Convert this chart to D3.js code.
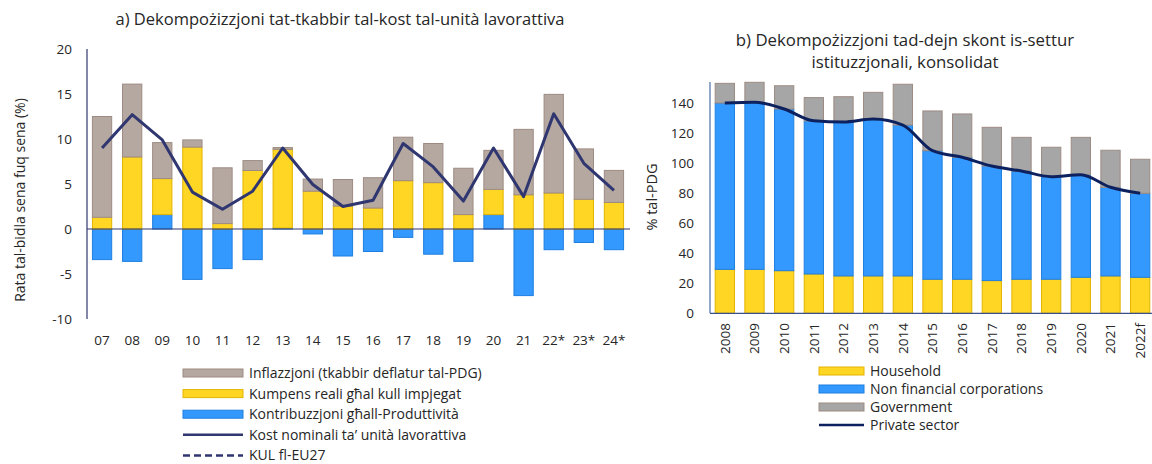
<!DOCTYPE html>
<html><head><meta charset="utf-8">
<script src="https://cdn.jsdelivr.net/npm/d3@7"></script>
<style>
body{margin:0;background:#fff;}
svg text{font-family:"Open Sans",Lato,sans-serif;fill:#262626;}
</style></head><body>
<svg id="c" width="1152" height="464"></svg>
<script>
// ---------- Chart a data ----------
const catsA = ["07","08","09","10","11","12","13","14","15","16","17","18","19","20","21","22*","23*","24*"];
const productivity = [-3.4,-3.6,1.6,-5.6,-4.4,-3.4,0.1,-0.55,-3.0,-2.5,-0.93,-2.8,-3.6,1.6,-7.4,-2.3,-1.5,-2.3];
const realComp =     [1.3,8.0,4.0,9.1,0.6,6.5,8.75,4.2,2.55,2.33,5.37,5.15,1.6,2.8,3.8,4.0,3.3,2.95];
const inflation =    [11.2,8.1,4.0,0.8,6.2,1.1,0.2,1.35,2.95,3.37,4.83,4.35,5.15,4.34,7.27,10.96,5.6,3.56];
const ulc =          [9.0,12.7,9.9,4.1,2.2,4.2,9.0,4.95,2.5,3.2,9.5,6.9,3.1,9.0,3.6,12.8,7.3,4.3];
const ticksA = [-10,-5,0,5,10,15,20];

// ---------- Chart b data ----------
const catsB = ["2008","2009","2010","2011","2012","2013","2014","2015","2016","2017","2018","2019","2020","2021","2022f"];
const household = [29.3,29.3,28.4,26.2,24.9,24.9,24.9,22.7,22.7,21.8,22.7,22.7,24.0,24.9,24.0];
const nfc =       [110.9,111.4,107.8,102.1,102.6,104.6,100.6,85.7,81.3,76.4,72.2,68.4,68.4,59.1,56.0];
const government =[13.1,13.3,15.5,15.5,16.9,17.8,27.2,26.5,28.9,25.8,22.4,19.6,24.9,24.7,22.7];
const privateSector = [140.2,140.7,136.2,128.3,127.5,129.5,125.5,108.4,104.0,98.2,94.9,91.1,92.4,84.0,80.0];
const ticksB = [0,20,40,60,80,100,120,140];

const svg = d3.select("#c");
const COL = {
  gray:"#b5a8a1", grayS:"#9d8b83",
  yellow:"#ffd624", yellowS:"#e3b400",
  blue:"#3399fe", blueS:"#1f7fe0",
  navy:"#2f3670", navy2:"#0d215e", gray2:"#a6a6a6"
};

// ================= Chart a =================
(function(){
  const x = d3.scaleBand().domain(catsA).range([87,629]).paddingInner(0.36).paddingOuter(0.18);
  const y = d3.scaleLinear().domain([-10,20]).range([319,49]);
  const g = svg.append("g");
  const rows = catsA.map((c,i)=>({cat:c, prod:productivity[i], real:realComp[i], infl:inflation[i]}));
  const keys = ["prod","real","infl"];
  const fills = {prod:[COL.blue,COL.blueS], real:[COL.yellow,COL.yellowS], infl:[COL.gray,COL.grayS]};
  const stack = d3.stack().keys(keys).offset(d3.stackOffsetDiverging)(rows);
  stack.forEach(s=>{
    g.append("g").selectAll("rect").data(s).join("rect")
      .attr("x",d=>x(d.data.cat)).attr("width",x.bandwidth())
      .attr("y",d=>y(Math.max(d[0],d[1]))).attr("height",d=>Math.abs(y(d[0])-y(d[1])))
      .attr("fill",fills[s.key][0]).attr("stroke",fills[s.key][1]).attr("stroke-width",1);
  });
  g.append("line").attr("x1",87).attr("x2",87).attr("y1",y(20)).attr("y2",y(-10)).attr("stroke",COL.navy).attr("stroke-width",1.2);
  g.append("line").attr("x1",87).attr("x2",630).attr("y1",y(0)).attr("y2",y(0)).attr("stroke",COL.navy).attr("stroke-width",1.2);
  g.append("g").selectAll("text").data(ticksA).join("text")
    .attr("x",72).attr("y",d=>y(d)).attr("dy","0.35em").attr("text-anchor","end")
    .style("font-size","13.5px").text(d=>d);
  g.append("g").selectAll("text").data(catsA).join("text")
    .attr("x",d=>x(d)+x.bandwidth()/2).attr("y",340).attr("dy","0.35em").attr("text-anchor","middle")
    .style("font-size","13.5px").text(d=>d);
  const line = d3.line().x((d,i)=>x(catsA[i])+x.bandwidth()/2).y(d=>y(d));
  g.append("path").attr("d",line(ulc)).attr("fill","none").attr("stroke",COL.navy).attr("stroke-width",3).attr("stroke-linejoin","round");
  svg.append("text").attr("x",340).attr("y",19).attr("dy","0.35em").attr("text-anchor","middle").style("font-size","16.5px")
    .text("a) Dekompożizzjoni tat-tkabbir tal-kost tal-unità lavorattiva");
  svg.append("text").attr("transform","translate(20,200) rotate(-90)").attr("text-anchor","middle").attr("dy","0.35em")
    .style("font-size","14px").text("Rata tal-bidla sena fuq sena (%)");
  const leg = [
    {t:"Inflazzjoni (tkabbir deflatur tal-PDG)", type:"box", c:COL.gray, s:COL.grayS},
    {t:"Kumpens reali għal kull impjegat", type:"box", c:COL.yellow, s:COL.yellowS},
    {t:"Kontribuzzjoni għall-Produttività", type:"box", c:COL.blue, s:COL.blueS},
    {t:"Kost nominali ta’ unità lavorattiva", type:"line", c:COL.navy},
    {t:"KUL fl-EU27", type:"dash", c:COL.navy}
  ];
  const lg = svg.append("g");
  leg.forEach((d,i)=>{
    const yy = 373 + i*20.6;
    if(d.type==="box") lg.append("rect").attr("x",183).attr("y",yy-4).attr("width",60).attr("height",8).attr("fill",d.c).attr("stroke",d.s).attr("stroke-width",1);
    else lg.append("line").attr("x1",183).attr("x2",243).attr("y1",yy).attr("y2",yy).attr("stroke",d.c).attr("stroke-width",2.5)
      .attr("stroke-dasharray",d.type==="dash"?"7,4":null);
    lg.append("text").attr("x",249).attr("y",yy).attr("dy","0.35em").style("font-size","14px").text(d.t);
  });
})();

// ================= Chart b =================
(function(){
  const x = d3.scaleBand().domain(catsB).range([710,1155]).paddingInner(0.35).paddingOuter(0.175);
  const y = d3.scaleLinear().domain([0,140]).range([313.3,103.3]);
  const g = svg.append("g");
  const rows = catsB.map((c,i)=>({cat:c, hh:household[i], nfc:nfc[i], gov:government[i]}));
  const keys = ["hh","nfc","gov"];
  const fills = {hh:[COL.yellow,COL.yellowS], nfc:[COL.blue,COL.blueS], gov:[COL.gray2,COL.grayS]};
  const stack = d3.stack().keys(keys)(rows);
  stack.forEach(s=>{
    g.append("g").selectAll("rect").data(s).join("rect")
      .attr("x",d=>x(d.data.cat)).attr("width",x.bandwidth())
      .attr("y",d=>y(d[1])).attr("height",d=>y(d[0])-y(d[1]))
      .attr("fill",fills[s.key][0]).attr("stroke",fills[s.key][1]).attr("stroke-width",1);
  });
  g.append("line").attr("x1",710).attr("x2",710).attr("y1",82).attr("y2",y(0)).attr("stroke","#4a6ea8").attr("stroke-width",1.2);
  g.append("line").attr("x1",710).attr("x2",1152).attr("y1",y(0)).attr("y2",y(0)).attr("stroke","#3a4f8a").attr("stroke-width",1.2);
  g.append("g").selectAll("text").data(ticksB).join("text")
    .attr("x",694).attr("y",d=>y(d)).attr("dy","0.35em").attr("text-anchor","end")
    .style("font-size","13.5px").text(d=>d);
  g.append("g").selectAll("text").data(catsB).join("text")
    .attr("transform",d=>`translate(${x(d)+x.bandwidth()/2},323) rotate(-90)`)
    .attr("dy","0.35em").attr("text-anchor","end")
    .style("font-size","13.5px").text(d=>d);
  const line = d3.line().x((d,i)=>x(catsB[i])+x.bandwidth()/2).y(d=>y(d)).curve(d3.curveMonotoneX);
  g.append("path").attr("d",line(privateSector)).attr("fill","none").attr("stroke",COL.navy2).attr("stroke-width",3);
  svg.append("text").attr("x",905).attr("y",40).attr("dy","0.35em").attr("text-anchor","middle").style("font-size","16.8px")
    .text("b) Dekompożizzjoni tad-dejn skont is-settur");
  svg.append("text").attr("x",905).attr("y",62).attr("dy","0.35em").attr("text-anchor","middle").style("font-size","16.8px")
    .text("istituzzjonali, konsolidat");
  svg.append("text").attr("transform","translate(652,197) rotate(-90)").attr("text-anchor","middle").attr("dy","0.35em")
    .style("font-size","14.5px").text("% tal-PDG");
  const leg = [
    {t:"Household", type:"box", c:COL.yellow, s:COL.yellowS},
    {t:"Non financial corporations", type:"box", c:COL.blue, s:COL.blueS},
    {t:"Government", type:"box", c:COL.gray2, s:COL.grayS},
    {t:"Private sector", type:"line", c:COL.navy2}
  ];
  const lg = svg.append("g");
  leg.forEach((d,i)=>{
    const yy = 371 + i*18;
    if(d.type==="box") lg.append("rect").attr("x",819).attr("y",yy-4).attr("width",45).attr("height",8).attr("fill",d.c).attr("stroke",d.s).attr("stroke-width",1);
    else lg.append("line").attr("x1",819).attr("x2",864).attr("y1",yy).attr("y2",yy).attr("stroke",d.c).attr("stroke-width",2.5);
    lg.append("text").attr("x",870).attr("y",yy).attr("dy","0.35em").style("font-size","14px").text(d.t);
  });
})();
</script></body></html>
